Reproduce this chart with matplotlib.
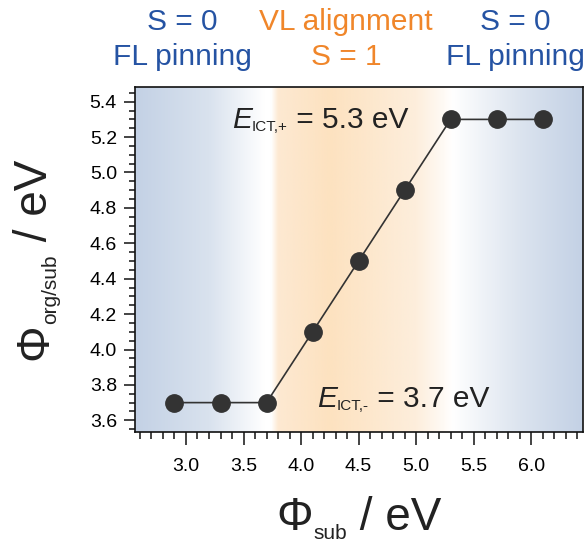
import numpy as np
import matplotlib
matplotlib.use("Agg")
import matplotlib.pyplot as plt
from matplotlib.colors import to_rgb
from matplotlib.ticker import MultipleLocator
from matplotlib.transforms import IdentityTransform

plt.rcParams['font.family'] = ['Liberation Sans', 'DejaVu Sans']

# ---- data ----
phi_sub = [2.9, 3.3, 3.7, 4.1, 4.5, 4.9, 5.3, 5.7, 6.1]
phi_org = [3.7, 3.7, 3.7, 4.1, 4.5, 4.9, 5.3, 5.3, 5.3]
x_ticks = [3.0, 3.5, 4.0, 4.5, 5.0, 5.5, 6.0]
y_ticks = [3.6, 3.8, 4.0, 4.2, 4.4, 4.6, 4.8, 5.0, 5.2, 5.4]
e_ict_plus = 5.3
e_ict_minus = 3.7
region_line1 = ["S = 0", "VL alignment", "S = 0"]
region_line2 = ["FL pinning", "S = 1", "FL pinning"]

# background gradient anchors (x position, colour)
grad_x = [2.55, 3.2, 3.68, 3.74, 3.80, 4.25, 5.0, 5.24, 5.32, 5.9, 6.45]
grad_c = ['#c3d1e5', '#d9e2ee', '#ffffff', '#ffffff', '#fde9d2', '#fde2c0',
          '#fdeedc', '#fffaf5', '#ffffff', '#dce4ef', '#c3d1e5']

W, H, DPI = 585, 543, 100
fig = plt.figure(figsize=(W / DPI, H / DPI), dpi=DPI)
ax = fig.add_axes([135 / W, 1 - 432 / H, (583 - 135) / W, (432 - 87) / H])

xlim = (2.557, 6.45)
ylim = (3.534, 5.483)

# gradient image
xs = np.linspace(xlim[0], xlim[1], 800)
rgb = np.array([to_rgb(c) for c in grad_c])
img = np.stack([np.interp(xs, grad_x, rgb[:, k]) for k in range(3)], axis=-1)[None, :, :]
ax.imshow(img, extent=(xlim[0], xlim[1], ylim[0], ylim[1]), aspect='auto',
          zorder=0, interpolation='bilinear')

dark = '#333333'
ax.plot(phi_sub, phi_org, '-', color=dark, lw=1.2, zorder=2)
ax.plot(phi_sub, phi_org, 'o', color=dark, ms=12.5, zorder=3)

ax.set_xlim(*xlim)
ax.set_ylim(*ylim)
ax.set_xticks(x_ticks)
ax.set_xticklabels([f"{v:.1f}" for v in x_ticks])
ax.set_yticks(y_ticks)
ax.set_yticklabels([f"{v:.1f}" for v in y_ticks])
ax.xaxis.set_minor_locator(MultipleLocator(0.1))
ax.yaxis.set_minor_locator(MultipleLocator(0.05))
ax.tick_params(axis='both', which='both', direction='out', width=1.1,
               color='#111111', labelsize=14, top=False, right=False)
ax.tick_params(axis='x', which='major', length=9.5, pad=9)
ax.tick_params(axis='x', which='minor', length=5)
ax.tick_params(axis='y', which='major', length=8, pad=5)
ax.tick_params(axis='y', which='minor', length=4)
for s in ax.spines.values():
    s.set_linewidth(1.2)
    s.set_color('#111111')

fig.canvas.draw()
renderer = fig.canvas.get_renderer()


def piece_width(txt, size, style='normal'):
    t = fig.text(0, 0, txt, fontsize=size, style=style)
    w = t.get_window_extent(renderer).width
    t.remove()
    return w


def draw_pieces(pieces, x0, y0, rotation=0, center=False, color='#222222'):
    """pieces: list of (text, size, style, baseline_shift_px); x0,y0 display px."""
    widths = [piece_width(p[0], p[1], p[2]) for p in pieces]
    total = sum(widths)
    start = -total / 2 if center else 0.0
    rad = np.deg2rad(rotation)
    ux, uy = np.cos(rad), np.sin(rad)      # advance direction
    nx, ny = -np.sin(rad), np.cos(rad)     # 'up' direction
    pos = start
    for (txt, size, style, shift), w in zip(pieces, widths):
        px = x0 + ux * pos + nx * shift
        py = y0 + uy * pos + ny * shift
        fig.text(px, py, txt, fontsize=size, style=style, color=color,
                 transform=IdentityTransform(), ha='left', va='baseline',
                 rotation=rotation, rotation_mode='anchor')
        pos += w


# axis labels (display coordinates: origin bottom-left)
draw_pieces([("Φ", 33, 'normal', 0), ("sub", 15, 'normal', -9), (" / eV", 33, 'normal', 0)],
            359, H - 530, rotation=0, center=True)
draw_pieces([("Φ", 33, 'normal', 0), ("org/sub", 15, 'normal', -9), (" / eV", 33, 'normal', 0)],
            47, H - 260, rotation=90, center=True)

# annotations anchored in data coordinates
ax_plus = ax.transData.transform((3.40, 5.25))
draw_pieces([("E", 21.5, 'italic', 0), ("ICT,+", 11, 'normal', -3), (" = %.1f eV" % e_ict_plus, 21.5, 'normal', 0)],
            ax_plus[0], ax_plus[1])
ax_minus = ax.transData.transform((4.14, 3.675))
draw_pieces([("E", 21.5, 'italic', 0), ("ICT,-", 11, 'normal', -3), (" = %.1f eV" % e_ict_minus, 21.5, 'normal', 0)],
            ax_minus[0], ax_minus[1])

# region labels on top
blue = '#2553a3'
orange = '#f0862a'
for l1, l2, xc, col in zip(region_line1, region_line2, [182, 346, 515], [blue, orange, blue]):
    fig.text(xc / W, 1 - 30 / H, l1, fontsize=21.5, color=col, ha='center', va='baseline')
    fig.text(xc / W, 1 - 65 / H, l2, fontsize=21.5, color=col, ha='center', va='baseline')

fig.savefig("out.png", dpi=DPI)
